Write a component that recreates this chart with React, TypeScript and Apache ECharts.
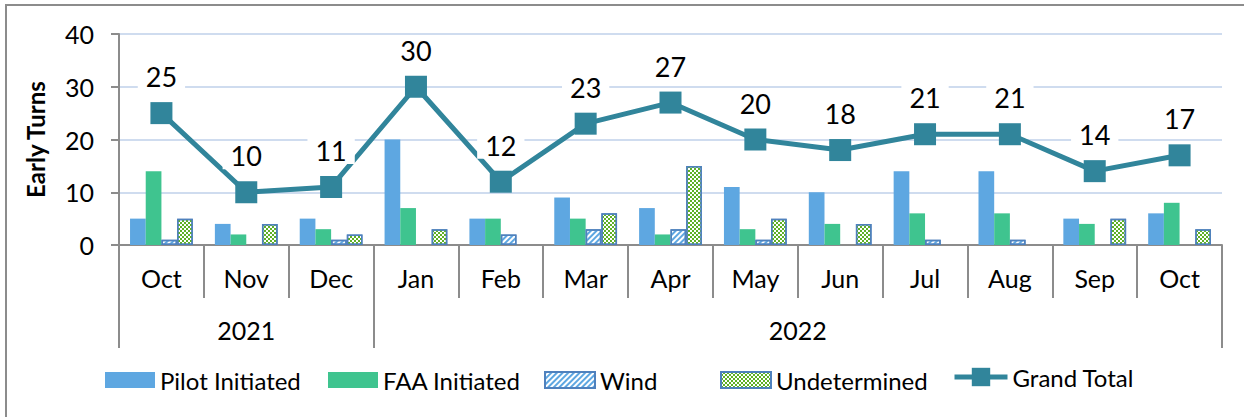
import React, { useEffect, useRef } from "react";
import * as echarts from "echarts";

const months = ["Oct", "Nov", "Dec", "Jan", "Feb", "Mar", "Apr", "May", "Jun", "Jul", "Aug", "Sep", "Oct"];
const years = ["2021", "2022"];
const monthsPerYear = [3, 10];
const pilotInitiated = [5, 4, 5, 20, 5, 9, 7, 11, 10, 14, 14, 5, 6];
const faaInitiated = [14, 2, 3, 7, 5, 5, 2, 3, 4, 6, 6, 4, 8];
const wind = [1, 0, 1, 0, 2, 3, 3, 1, 0, 1, 1, 0, 0];
const undetermined = [5, 4, 2, 3, 0, 6, 15, 5, 4, 0, 0, 5, 3];
const grandTotal = [25, 10, 11, 30, 12, 23, 27, 20, 18, 21, 21, 14, 17];
const yMin = 0;
const yMax = 40;
const yInterval = 10;

const FONT = "Lato, 'Noto Sans', sans-serif";
const GRAY = "#8c8c8c";
const BORDER_BLUE = "#4f81bd";

export default function App() {
  const ref = useRef<HTMLDivElement>(null);
  useEffect(() => {
    if (!ref.current) return;
    const chart = echarts.init(ref.current, null, { renderer: "svg" });

    const yearBounds: number[] = [0];
    monthsPerYear.forEach((n) => yearBounds.push(yearBounds[yearBounds.length - 1] + n));
    const yearCenters = monthsPerYear.map((n, i) => yearBounds[i] + n / 2);

    const barData = (arr: number[]) =>
      arr.map((v) => (v === 0 ? { value: v, itemStyle: { borderWidth: 0, opacity: 0 } } : v));

    const legendBase = {
      itemWidth: 50,
      itemHeight: 16,
      itemGap: 6,
      padding: 0,
      top: 365,
      textStyle: { fontSize: 24, color: "#000", fontFamily: FONT, lineHeight: 30 },
    };

    const option: any = {
      animation: false,
      textStyle: { fontFamily: FONT },
      graphic: [
        {
          type: "rect",
          silent: true,
          z: -10,
          shape: { x: 6, y: 5, width: 1400, height: 600 },
          style: { fill: "none", stroke: GRAY, lineWidth: 2 },
        },
      ],
      grid: { left: 119, right: 22, top: 34, bottom: 172, outerBoundsMode: "none" },
      legend: [
        { ...legendBase, left: 105, data: [{ name: "Pilot Initiated", icon: "rect" }] },
        { ...legendBase, left: 328, data: [{ name: "FAA Initiated", icon: "rect" }] },
        { ...legendBase, left: 544, data: [{ name: "Wind", icon: "rect" }] },
        { ...legendBase, left: 720, data: [{ name: "Undetermined", icon: "rect" }] },
        {
          ...legendBase,
          left: 952,
          itemWidth: 53,
          itemHeight: 23,
          top: 362,
          lineStyle: { width: 5 },
          data: [{ name: "Grand Total" }],
        },
      ],
      xAxis: [
        {
          type: "category",
          data: months,
          position: "bottom",
          boundaryGap: true,
          axisLine: { lineStyle: { color: GRAY, width: 2 } },
          axisTick: { show: true, interval: 0, length: 53, lineStyle: { color: GRAY, width: 2 } },
          axisLabel: { interval: 0, margin: 18, fontSize: 25, color: "#000", lineHeight: 30 },
        },
        {
          type: "value",
          min: 0,
          max: months.length,
          position: "bottom",
          axisLine: { show: false },
          splitLine: { show: false },
          axisTick: { show: true, customValues: yearBounds, length: 103, lineStyle: { color: GRAY, width: 2 } },
          axisLabel: {
            customValues: yearCenters,
            formatter: (v: number) => years[yearCenters.indexOf(v)] ?? "",
            margin: 70,
            fontSize: 25,
            color: "#000",
            lineHeight: 30,
          },
        },
      ],
      yAxis: {
        type: "value",
        min: yMin,
        max: yMax,
        interval: yInterval,
        name: "Early Turns",
        nameLocation: "middle",
        nameGap: 72,
        nameTextStyle: { fontSize: 24, fontWeight: "bold", color: "#000" },
        axisLine: { show: true, lineStyle: { color: GRAY, width: 2 } },
        axisTick: { show: true, length: 8, lineStyle: { color: GRAY, width: 2 } },
        axisLabel: { margin: 25, fontSize: 25, color: "#000" },
        splitLine: { show: true, lineStyle: { color: "#cfdcef", width: 2 } },
      },
      series: [
        {
          name: "Pilot Initiated",
          type: "bar",
          barGap: "0%",
          barCategoryGap: "26%",
          itemStyle: { color: "#5ea7e1" },
          data: barData(pilotInitiated),
        },
        {
          name: "FAA Initiated",
          type: "bar",
          itemStyle: { color: "#3fc48f" },
          data: barData(faaInitiated),
        },
        {
          name: "Wind",
          type: "bar",
          itemStyle: {
            color: "#ffffff",
            borderColor: BORDER_BLUE,
            borderWidth: 1.5,
            decal: {
              symbol: "rect",
              symbolSize: 1,
              color: "#5ea7e1",
              dashArrayX: [1, 0],
              dashArrayY: [2, 2],
              rotation: -Math.PI / 4,
            },
          },
          data: barData(wind),
        },
        {
          name: "Undetermined",
          type: "bar",
          itemStyle: {
            color: "#ffffff",
            borderColor: BORDER_BLUE,
            borderWidth: 1.5,
            decal: {
              symbol: "rect",
              symbolSize: 1,
              color: "#5fb026",
              dashArrayX: [
                [2, 2],
                [0, 2, 2, 0],
              ],
              dashArrayY: [2, 0],
              rotation: 0,
            },
          },
          data: barData(undetermined),
        },
        {
          name: "Grand Total",
          type: "line",
          symbol: "rect",
          symbolSize: 22,
          itemStyle: { color: "#31859b" },
          lineStyle: { color: "#31859b", width: 5 },
          z: 5,
          label: {
            show: true,
            position: "top",
            distance: 12,
            fontSize: 27,
            color: "#000",
            backgroundColor: "#ffffff",
            padding: [0, 8],
          },
          data: grandTotal,
        },
      ],
    };
    chart.setOption(option);
    return () => chart.dispose();
  }, []);
  return (
    <div
      ref={ref}
      style={{ position: "absolute", left: 0, top: 0, width: 1244, height: 417, background: "#fff" }}
    />
  );
}
